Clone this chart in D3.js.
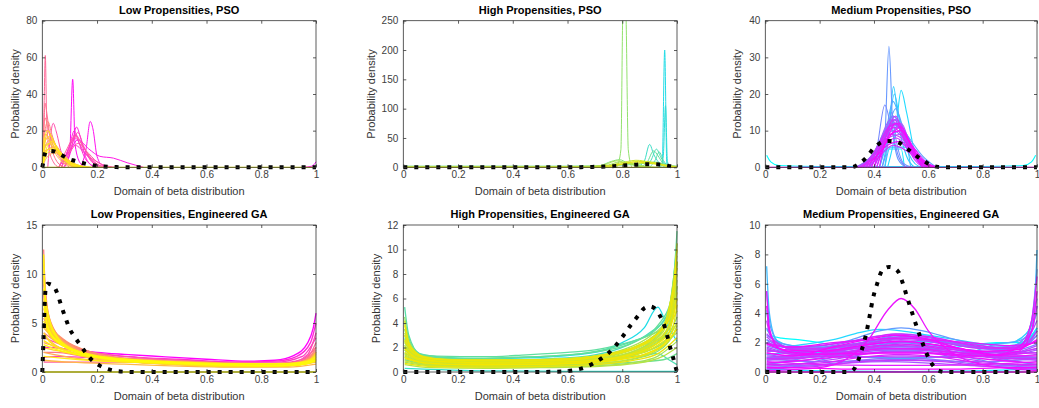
<!DOCTYPE html>
<html>
<head>
<meta charset="utf-8">
<title>Beta fits</title>
<script src="https://cdn.jsdelivr.net/npm/d3@7"></script>
<style>
body { margin: 0; background: #fff; }
text { font-family: "Liberation Sans", Arial, Helvetica, sans-serif; }
</style>
</head>
<body>
<svg id="fig" width="1039" height="408"></svg>
<script>
// ---- data ----
var xTicks = [0, 0.2, 0.4, 0.6, 0.8, 1];
var titles = ['Low Propensities, PSO', 'High Propensities, PSO', 'Medium Propensities, PSO',
              'Low Propensities, Engineered GA', 'High Propensities, Engineered GA', 'Medium Propensities, Engineered GA'];
var yMax = [80, 250, 40, 15, 12, 10];
var yTicks = [[0, 20, 40, 60, 80], [0, 50, 100, 150, 200, 250], [0, 10, 20, 30, 40],
              [0, 5, 10, 15], [0, 2, 4, 6, 8, 10, 12], [0, 2, 4, 6, 8, 10]];

// true (target) beta densities, black dotted
var lowTrue = [[0,0],[0.004,3],[0.008,6.5],[0.013,8.7],[0.02,9.0],[0.04,8.8],[0.055,8.0],[0.07,6.7],[0.085,5.5],[0.1,4.4],[0.115,3.7],[0.13,3.1],[0.145,2.5],[0.16,1.9],[0.18,1.25],[0.21,0.65],[0.24,0.3],[0.27,0.1],[0.3,0.03],[0.35,0],[1,0]];
var highTrue = [[0,0],[0.5,0],[0.55,0.02],[0.6,0.08],[0.63,0.18],[0.66,0.35],[0.69,0.65],[0.72,1.05],[0.75,1.55],[0.77,2.0],[0.8,2.85],[0.83,3.8],[0.86,4.65],[0.88,5.2],[0.9,5.35],[0.915,5.25],[0.935,4.7],[0.955,3.7],[0.965,2.9],[0.975,2.0],[0.985,1.25],[0.992,0.65],[1,0]];
var medTrue = [[0,0],[0.3,0],[0.32,0.08],[0.34,0.7],[0.355,1.5],[0.37,2.5],[0.385,3.9],[0.395,4.9],[0.41,5.9],[0.43,6.9],[0.455,7.15],[0.475,7.05],[0.49,6.8],[0.505,6.1],[0.52,5.2],[0.54,4.05],[0.555,3.2],[0.575,2.15],[0.595,1.2],[0.615,0.5],[0.635,0.12],[0.66,0],[1,0]];

// fitted densities, in plotting order (first = start of colormap)
var lowPSO = [
  [[0.95,0],[0.985,0.6],[1,3]],
  [[0.08,0],[0.1,8],[0.111,48],[0.12,12],[0.14,2],[0.16,0]],
  [[0.14,0],[0.16,10],[0.175,25],[0.185,21],[0.2,6],[0.22,1],[0.25,0]],
  [[0.06,0],[0.1,9],[0.13,15],[0.17,10],[0.21,6],[0.26,5],[0.31,2.5],[0.37,0]],
  [[0.08,0],[0.105,9],[0.125,22],[0.14,16],[0.16,5],[0.19,0]],
  [[0.07,0],[0.1,12],[0.117,20],[0.13,15],[0.16,4],[0.2,0]],
  [[0.07,0],[0.095,10],[0.12,16],[0.15,9],[0.2,1.5],[0.24,0]],
  [[0.06,0],[0.09,7],[0.12,12],[0.16,7],[0.22,1.5],[0.27,0]],
  [[0.07,0],[0.1,11],[0.12,18],[0.14,14],[0.17,6],[0.21,0]],
  [[0.08,0],[0.11,13],[0.13,19],[0.15,12],[0.18,3],[0.22,0]],
  [[0.02,0],[0.03,17],[0.04,24],[0.05,20],[0.07,8],[0.1,2],[0.13,0]],
  [[0.07,0],[0.1,8],[0.13,13],[0.16,9],[0.2,3],[0.25,0]],
  [[0.06,0],[0.09,10],[0.12,17],[0.15,11],[0.19,3],[0.23,0]],
  [[0,0],[0.006,30],[0.011,61],[0.016,26],[0.025,10],[0.04,3],[0.06,0]],
  [[0,0],[0.005,18],[0.01,35],[0.018,28],[0.03,14],[0.05,4],[0.08,0]],
  [[0,4],[0.01,27],[0.02,22],[0.04,12],[0.07,4],[0.1,0]],
  [[0,2],[0.008,20],[0.02,20],[0.04,14],[0.07,6],[0.1,1.5],[0.13,0]],
  [[0,0],[0.01,20],[0.02,25],[0.035,18],[0.05,11],[0.08,3.5],[0.12,0]],
  [[0,0],[0.01,15],[0.025,19],[0.04,15],[0.06,9],[0.1,2.5],[0.14,0]],
  [[0,2],[0.015,13],[0.03,15],[0.05,12],[0.08,6],[0.12,1.5],[0.16,0]],
  [[0,1],[0.02,10],[0.04,11],[0.07,7],[0.1,3.5],[0.14,0.8],[0.18,0]],
  [[0,3],[0.01,9],[0.03,10],[0.06,7],[0.09,3],[0.13,0.3],[0.16,0]],
  [[0,0],[0.02,6],[0.05,8],[0.08,5],[0.12,1.5],[0.17,0]],
  [[0,5],[0.01,12],[0.025,13],[0.045,10],[0.07,5],[0.11,1],[0.15,0]],
  [[0,0],[0.005,16],[0.015,18],[0.03,13],[0.05,7],[0.09,1.5],[0.13,0]],
  [[0,1],[0.01,14],[0.02,16],[0.04,12],[0.06,7],[0.1,2],[0.14,0]],
  [[0,0],[0.01,11],[0.03,13],[0.05,10],[0.08,4.5],[0.12,1],[0.15,0]],
  [[0,2],[0.015,16],[0.03,17],[0.05,12],[0.08,5],[0.12,1],[0.15,0]],
  [[0,0],[0.02,8],[0.04,9],[0.07,6],[0.1,2.5],[0.15,0]],
  [[0,3],[0.01,17],[0.02,20],[0.04,14],[0.07,6],[0.1,1.5],[0.14,0]],
  [[0,0],[0.02,12],[0.035,14],[0.06,9],[0.09,3.5],[0.13,0.5],[0.16,0]],
  [[0,1],[0.025,10],[0.05,10],[0.08,6],[0.11,2.5],[0.15,0.5],[0.18,0]],
  [[0,0],[1,0]]
];
var highPSO = [
  [[0.93,0],[0.946,5],[0.955,200],[0.963,5],[0.975,0]],
  [[0.94,0],[0.95,20],[0.958,105],[0.965,10],[0.975,0]],
  [[0.85,0],[0.88,10],[0.9,39],[0.915,22],[0.94,5],[0.96,0]],
  [[0.88,0],[0.905,12],[0.925,31],[0.94,18],[0.96,3],[0.98,0]],
  [[0.9,0],[0.92,12],[0.935,26],[0.95,12],[0.97,0]],
  [[0.86,0],[0.89,8],[0.915,28],[0.93,20],[0.95,6],[0.97,0]],
  [[0,2],[0.3,2],[0.6,2],[0.72,2.5],[0.85,5],[0.92,9],[0.96,4],[1,2]],
  [[0.66,0],[0.72,3],[0.76,10],[0.79,13],[0.82,7],[0.86,1.5],[0.9,0]],
  [[0.78,0],[0.795,30],[0.803,280],[0.812,280],[0.822,30],[0.835,0]],
  [[0.7,0],[0.75,4],[0.79,9],[0.83,7],[0.88,2],[0.93,0]],
  [[0.68,0],[0.74,5],[0.78,11],[0.81,8],[0.85,3],[0.9,0]],
  [[0,1],[0.5,1],[0.65,1.5],[0.75,3],[0.85,7],[0.92,6],[1,1]],
  [[0.7,0],[0.76,4],[0.82,10],[0.85,12],[0.9,9],[0.95,4],[0.98,0]],
  [[0.72,0],[0.8,6],[0.86,10],[0.92,8],[0.96,3],[1,0]],
  [[0.74,0],[0.8,5],[0.84,9],[0.88,8],[0.93,5],[0.97,1],[1,0]],
  [[0,0],[1,0]]
];
var medPSO = [
  [[0.005,3.3],[0.02,1.5],[0.05,0.5],[0.2,0.2],[0.5,0.2],[0.8,0.2],[0.95,0.5],[0.98,1.5],[0.995,3.3]],
  [[0.44,0],[0.452,5],[0.5,5],[0.512,0]],
  [[0.45,0],[0.48,10],[0.5,21],[0.52,15],[0.55,4],[0.58,0]],
  [[0.43,0],[0.455,10],[0.472,22],[0.49,12],[0.52,3],[0.55,0]],
  [[0.42,0],[0.45,8],[0.475,20],[0.5,10],[0.54,2],[0.57,0]],
  [[0.44,0],[0.46,5.5],[0.52,5.5],[0.535,0]],
  [[0.4,0],[0.44,8],[0.47,18],[0.5,12],[0.55,4],[0.6,0]],
  [[0.41,0],[0.45,10],[0.48,16],[0.51,10],[0.56,2],[0.6,0]],
  [[0.38,0],[0.42,4],[0.47,14],[0.52,9],[0.58,3],[0.63,0]],
  [[0.42,0],[0.44,8],[0.455,33],[0.47,10],[0.49,2],[0.52,0]],
  [[0.43,0],[0.45,6],[0.465,15],[0.48,8],[0.51,1],[0.54,0]],
  [[0.38,0],[0.41,5],[0.44,17],[0.46,12],[0.49,3],[0.52,0]],
  [[0.33,0],[0.38,2],[0.42,6],[0.47,14],[0.52,8],[0.57,2],[0.62,0]],
  [[0.34,0],[0.4,4],[0.45,11],[0.48,12],[0.53,6],[0.58,1],[0.63,0]],
  [[0.35,0],[0.41,5],[0.46,12],[0.5,10],[0.55,4],[0.6,0.5],[0.64,0]],
  [[0.36,0],[0.42,6],[0.47,10],[0.52,7],[0.57,2],[0.62,0]],
  [[0.33,0],[0.39,3],[0.44,9],[0.48,13],[0.52,9],[0.56,3],[0.6,0]],
  [[0.37,0],[0.42,7],[0.46,13],[0.49,11],[0.53,5],[0.57,1],[0.6,0]],
  [[0.35,0],[0.4,3.5],[0.45,8],[0.5,9],[0.55,5],[0.6,1],[0.64,0]],
  [[0.38,0],[0.43,8],[0.46,11],[0.5,12],[0.53,7],[0.56,2],[0.6,0]],
  [[0.36,0],[0.41,4],[0.45,10],[0.49,11],[0.54,5],[0.59,1],[0.63,0]],
  [[0.39,0],[0.43,6],[0.47,12],[0.51,9],[0.55,3],[0.59,0]],
  [[0.34,0],[0.4,3],[0.46,9],[0.5,8],[0.56,3],[0.62,0]],
  [[0.4,0],[0.44,9],[0.475,13],[0.5,10],[0.54,4],[0.58,0]],
  [[0.37,0],[0.42,5],[0.45,7],[0.48,8],[0.52,6],[0.57,2],[0.62,0]],
  [[0.42,0],[0.45,10],[0.48,14],[0.51,8],[0.55,2],[0.58,0]],
  [[0.38,0],[0.42,3],[0.47,6],[0.52,4.5],[0.58,1],[0.62,0]],
  [[0.36,0],[0.41,5],[0.455,11],[0.49,12],[0.53,7],[0.57,2],[0.61,0]],
  [[0.39,0],[0.44,8],[0.47,11],[0.5,9],[0.54,4],[0.58,0]],
  [[0.35,0],[0.4,2.5],[0.45,6],[0.49,7],[0.54,4],[0.6,0.8],[0.64,0]],
  [[0.41,0],[0.45,8],[0.48,12],[0.52,8],[0.56,2],[0.59,0]],
  [[0.37,0],[0.42,4],[0.46,9],[0.5,10],[0.54,6],[0.58,2],[0.62,0]],
  [[0.4,0],[0.44,6],[0.47,9.5],[0.5,11],[0.53,7],[0.57,2],[0.6,0]],
  [[0,0],[1,0]]
];
var lowGA = [
  [[0.005,2.5],[0.03,2.5],[0.1,2.3],[0.2,2.0],[0.3,1.8],[0.45,1.55],[0.6,1.3],[0.75,1.1],[0.85,1.2],[0.92,1.7],[0.97,3],[0.99,4.5],[1,6]],
  [[0.005,5],[0.03,4],[0.1,2.8],[0.2,1.9],[0.35,1.5],[0.5,1.3],[0.7,1.0],[0.85,1.1],[0.93,1.6],[0.98,3],[1,5]],
  [[0.005,1.5],[0.05,1.6],[0.15,1.5],[0.3,1.4],[0.5,1.2],[0.7,1.0],[0.85,1.0],[0.95,1.6],[1,3.5]],
  [[0.005,8],[0.02,5],[0.06,3.2],[0.12,2.3],[0.2,1.7],[0.35,1.2],[0.55,0.9],[0.75,0.75],[0.9,0.9],[0.97,1.8],[1,4]],
  [[0.005,3.5],[0.05,3],[0.15,2.2],[0.3,1.6],[0.5,1.2],[0.7,0.9],[0.85,0.9],[0.95,1.3],[1,2.5]],
  [[0.005,1],[0.1,1],[0.3,1],[0.5,0.9],[0.7,0.8],[0.9,0.8],[1,1.2]],
  [[0.005,10],[0.015,6],[0.04,4.2],[0.1,2.6],[0.2,1.5],[0.35,1.0],[0.55,0.7],[0.75,0.6],[0.9,0.8],[0.97,1.5],[1,3]],
  [[0.005,6],[0.03,4.5],[0.08,3.2],[0.15,2.2],[0.3,1.3],[0.5,0.9],[0.7,0.7],[0.85,0.7],[0.95,1.1],[1,2]],
  [[0.005,2],[0.05,2],[0.15,1.6],[0.3,1.2],[0.5,1.0],[0.7,0.8],[0.9,0.9],[1,1.6]],
  [[0.005,12.5],[0.01,9],[0.03,5],[0.07,3.3],[0.15,2],[0.3,1.2],[0.5,0.8],[0.7,0.6],[0.88,0.7],[0.96,1.2],[1,2.2]],
  [[0.005,4],[0.04,3.3],[0.1,2.5],[0.2,1.7],[0.35,1.2],[0.55,0.9],[0.75,0.7],[0.9,0.8],[0.98,1.4],[1,2]],
  [[0.005,9],[0.02,6],[0.05,4],[0.1,2.8],[0.2,1.7],[0.35,1.1],[0.5,0.85],[0.7,0.65],[0.9,0.7],[0.97,1.3],[1,2.5]],
  [[0.005,7],[0.03,4.8],[0.08,3.3],[0.15,2.3],[0.3,1.4],[0.5,0.95],[0.7,0.75],[0.88,0.75],[0.96,1.2],[1,2]],
  [[0.005,11],[0.015,7],[0.04,4.5],[0.1,2.6],[0.2,1.6],[0.35,1.1],[0.55,0.8],[0.75,0.6],[0.9,0.65],[0.97,1.1],[1,1.8]],
  [[0.005,5.5],[0.03,4],[0.08,3],[0.15,2],[0.25,1.5],[0.4,1.1],[0.6,0.85],[0.8,0.7],[0.93,0.8],[1,1.5]],
  [[0.005,3],[0.05,2.6],[0.12,2.1],[0.2,1.7],[0.35,1.3],[0.5,1.1],[0.7,0.9],[0.85,0.85],[0.95,1.0],[1,1.3]],
  [[0.005,8],[0.02,5.5],[0.06,3.6],[0.12,2.4],[0.2,1.6],[0.3,1.2],[0.45,0.9],[0.65,0.7],[0.85,0.6],[0.95,0.9],[1,1.4]],
  [[0.005,2],[0.1,1.5],[0.25,1.1],[0.45,0.9],[0.65,0.75],[0.85,0.7],[1,1]],
  [[0.005,6.5],[0.03,4.2],[0.1,2.5],[0.2,1.5],[0.35,1.0],[0.5,0.75],[0.7,0.55],[0.85,0.55],[0.95,0.8],[1,1.2]],
  [[0.005,1.2],[0.1,1.0],[0.3,0.8],[0.5,0.6],[0.7,0.5],[0.9,0.5],[1,0.8]],
  [[0.005,4.5],[0.05,3.2],[0.12,2.2],[0.25,1.4],[0.4,1.0],[0.6,0.7],[0.8,0.6],[0.93,0.7],[1,1.1]],
  [[0.005,10],[0.015,6.5],[0.04,4],[0.09,2.7],[0.18,1.7],[0.3,1.2],[0.45,1.0],[0.6,0.85],[0.8,0.7],[0.95,0.8],[1,1.3]],
  [[0.005,3.8],[0.04,2.9],[0.1,2.0],[0.2,1.3],[0.35,0.95],[0.55,0.75],[0.75,0.6],[0.9,0.65],[1,1.0]],
  [[0.005,9.5],[0.02,5.8],[0.05,3.8],[0.1,2.5],[0.2,1.5],[0.35,1.0],[0.5,0.8],[0.7,0.62],[0.88,0.65],[0.97,1.1],[1,2]],
  [[0.005,5],[0.03,3.6],[0.08,2.6],[0.15,1.9],[0.3,1.25],[0.5,0.95],[0.7,0.8],[0.88,0.8],[0.97,1.2],[1,1.8]],
  [[0.005,7.5],[0.02,5],[0.06,3.2],[0.12,2.1],[0.22,1.4],[0.4,0.95],[0.6,0.7],[0.8,0.6],[0.93,0.7],[1,1.3]],
  [[0.005,2.5],[0.05,2.2],[0.12,1.8],[0.25,1.35],[0.45,1.05],[0.65,0.85],[0.85,0.8],[0.96,1.0],[1,1.4]],
  [[0.005,4],[0.03,3.0],[0.1,2.1],[0.2,1.55],[0.35,1.15],[0.55,0.9],[0.75,0.75],[0.9,0.75],[1,1.2]],
  [[0.005,11.5],[0.012,7],[0.03,4.8],[0.07,3.0],[0.15,1.8],[0.3,1.1],[0.5,0.75],[0.7,0.55],[0.88,0.6],[0.97,1.0],[1,1.7]],
  [[0.005,6],[0.025,4.2],[0.07,2.9],[0.14,2.0],[0.28,1.3],[0.45,1.0],[0.65,0.8],[0.85,0.7],[0.96,0.95],[1,1.5]],
  [[0.005,3.2],[0.05,2.5],[0.12,1.9],[0.22,1.4],[0.4,1.05],[0.6,0.85],[0.8,0.72],[0.93,0.8],[1,1.15]],
  [[0.005,8.5],[0.02,5.5],[0.05,3.6],[0.1,2.4],[0.18,1.6],[0.32,1.1],[0.5,0.85],[0.7,0.68],[0.87,0.68],[0.96,1.0],[1,1.6]],
  [[0.005,1.6],[0.08,1.4],[0.2,1.15],[0.4,0.95],[0.6,0.8],[0.8,0.7],[0.95,0.8],[1,1.1]],
  [[0.005,5.2],[0.03,3.8],[0.08,2.7],[0.16,1.9],[0.3,1.3],[0.5,0.9],[0.7,0.7],[0.88,0.62],[0.97,0.85],[1,1.3]],
  [[0.005,12],[0.01,8],[0.025,5.5],[0.06,3.4],[0.12,2.2],[0.25,1.3],[0.45,0.9],[0.65,0.7],[0.85,0.62],[0.96,0.9],[1,1.5]],
  [[0.005,2.8],[0.05,2.3],[0.15,1.7],[0.3,1.3],[0.5,1.0],[0.7,0.85],[0.9,0.85],[1,1.2]],
  [[0.005,7],[0.02,4.6],[0.06,3.0],[0.13,2.0],[0.25,1.35],[0.42,1.0],[0.62,0.78],[0.82,0.65],[0.95,0.75],[1,1.2]],
  [[0,0],[1,0]]
];
var highGA = [
  [[0.005,2.8],[0.04,1.8],[0.1,1.2],[0.3,1.1],[0.5,1.2],[0.7,1.6],[0.8,2.4],[0.88,3.6],[0.93,5.3],[0.96,4],[1,2.5]],
  [[0.005,0.3],[0.3,0.1],[0.6,0.05],[1,0.05]],
  [[0.005,2],[0.05,1.4],[0.15,1.1],[0.35,1.0],[0.55,1.1],[0.7,1.4],[0.82,2.2],[0.9,3.2],[0.96,4.5],[0.99,7],[1,9]],
  [[0.005,1.5],[0.1,1.0],[0.3,0.9],[0.5,0.9],[0.7,1.0],[0.85,1.3],[0.93,1.5],[0.97,1],[1,0.6]],
  [[0.005,5.3],[0.02,3],[0.06,1.5],[0.15,1.2],[0.3,1.1],[0.5,1.25],[0.65,1.5],[0.75,1.9],[0.85,2.6],[0.92,3.4],[0.97,5],[1,10.5]],
  [[0.005,2.5],[0.05,1.5],[0.12,1.3],[0.3,1.25],[0.45,1.4],[0.6,1.6],[0.7,1.8],[0.8,2.3],[0.9,3],[0.96,3.8],[1,6]],
  [[0.005,3.5],[0.03,2],[0.08,1.3],[0.2,1.1],[0.4,1.2],[0.6,1.4],[0.72,1.7],[0.85,2.5],[0.93,3.8],[0.98,6],[1,11.5]],
  [[0.005,1],[0.1,0.6],[0.3,0.5],[0.5,0.5],[0.7,0.6],[0.85,0.8],[0.95,1.0],[1,1.5]],
  [[0.005,4],[0.03,2.2],[0.08,1.2],[0.2,0.9],[0.4,0.9],[0.6,1.0],[0.75,1.4],[0.85,2.0],[0.92,3.0],[0.97,4.5],[1,8]],
  [[0.005,1.8],[0.06,1.0],[0.2,0.8],[0.4,0.75],[0.6,0.8],[0.75,1.1],[0.87,1.6],[0.95,2.4],[1,4]],
  [[0.005,3],[0.04,1.7],[0.1,1.1],[0.3,0.9],[0.5,0.85],[0.65,0.95],[0.78,1.3],[0.88,2],[0.95,3.5],[0.99,6],[1,9]],
  [[0.005,1.2],[0.1,0.7],[0.3,0.55],[0.5,0.55],[0.7,0.7],[0.85,1.1],[0.95,2],[1,3.5]],
  [[0.005,2.2],[0.04,1.3],[0.12,0.9],[0.3,0.7],[0.5,0.7],[0.65,0.85],[0.78,1.2],[0.88,1.8],[0.95,2.8],[0.99,5],[1,7]],
  [[0.005,4.5],[0.02,2.5],[0.06,1.3],[0.15,0.9],[0.35,0.8],[0.55,0.85],[0.7,1.0],[0.82,1.5],[0.9,2.4],[0.96,4],[1,10]],
  [[0.005,1.5],[0.08,0.9],[0.25,0.6],[0.45,0.55],[0.62,0.65],[0.76,0.95],[0.87,1.6],[0.94,2.6],[0.98,3.5],[1,4.5]],
  [[0.005,2.7],[0.03,1.6],[0.1,1.0],[0.25,0.85],[0.45,0.85],[0.6,0.95],[0.72,1.2],[0.84,1.9],[0.92,3],[0.97,4.5],[1,8.5]],
  [[0.005,0.8],[0.1,0.5],[0.3,0.4],[0.5,0.4],[0.7,0.5],[0.85,0.8],[0.93,1.3],[1,2.5]],
  [[0.005,3.5],[0.03,1.9],[0.09,1.1],[0.2,0.95],[0.4,0.95],[0.58,1.05],[0.7,1.3],[0.8,1.8],[0.9,2.9],[0.96,4.2],[1,9.5]],
  [[0.005,2],[0.05,1.2],[0.15,0.8],[0.35,0.65],[0.55,0.7],[0.7,0.85],[0.82,1.3],[0.91,2.2],[0.97,3.6],[1,6]],
  [[0.005,1.3],[0.1,0.75],[0.3,0.65],[0.5,0.7],[0.65,0.85],[0.78,1.15],[0.88,1.6],[0.95,2.3],[1,3.2]],
  [[0.005,0.6],[0.1,0.35],[0.3,0.3],[0.5,0.35],[0.7,0.45],[0.85,0.7],[0.95,1.3],[1,2]],
  [[0.005,2.4],[0.04,1.4],[0.1,1.0],[0.3,0.8],[0.5,0.8],[0.66,0.95],[0.8,1.4],[0.9,2.3],[0.96,3.3],[1,7.5]],
  [[0.005,1.8],[0.05,1.1],[0.15,0.8],[0.35,0.7],[0.55,0.75],[0.7,0.95],[0.82,1.4],[0.91,2.3],[0.97,3.8],[1,7]],
  [[0.005,3.2],[0.03,1.8],[0.1,1.05],[0.3,0.9],[0.5,0.95],[0.66,1.15],[0.8,1.7],[0.9,2.7],[0.96,4],[1,9]],
  [[0.005,0.9],[0.1,0.55],[0.3,0.45],[0.5,0.5],[0.68,0.65],[0.82,1.0],[0.92,1.7],[0.98,2.8],[1,3.8]],
  [[0.005,2.5],[0.04,1.5],[0.12,1.0],[0.3,0.85],[0.5,0.85],[0.65,1.0],[0.78,1.4],[0.88,2.2],[0.95,3.3],[1,8]],
  [[0.005,1.4],[0.08,0.85],[0.25,0.7],[0.45,0.7],[0.62,0.8],[0.76,1.1],[0.87,1.7],[0.94,2.6],[1,5]],
  [[0.005,4.2],[0.02,2.4],[0.07,1.3],[0.18,1.0],[0.4,1.0],[0.6,1.1],[0.74,1.45],[0.85,2.1],[0.93,3.2],[0.98,5],[1,10.5]],
  [[0.005,2.1],[0.05,1.3],[0.15,0.95],[0.35,0.8],[0.55,0.8],[0.7,1.0],[0.83,1.5],[0.92,2.5],[0.97,3.6],[1,6.5]],
  [[0.005,1.1],[0.1,0.65],[0.3,0.55],[0.5,0.6],[0.68,0.75],[0.8,1.05],[0.9,1.6],[0.96,2.5],[1,4]],
  [[0.005,3],[0.03,1.7],[0.1,1.1],[0.25,0.95],[0.45,0.95],[0.6,1.05],[0.73,1.35],[0.85,2.0],[0.93,3.1],[0.98,4.8],[1,9]],
  [[0.005,1.6],[0.06,1.0],[0.2,0.75],[0.4,0.65],[0.58,0.7],[0.72,0.9],[0.84,1.35],[0.93,2.2],[0.98,3.2],[1,5.5]],
  [[0.005,2.6],[0.04,1.5],[0.12,1.05],[0.3,0.95],[0.5,1.0],[0.64,1.15],[0.77,1.55],[0.88,2.4],[0.95,3.7],[1,8.5]],
  [[0.005,0.7],[0.1,0.45],[0.3,0.4],[0.5,0.45],[0.7,0.6],[0.84,0.95],[0.93,1.5],[1,2.8]],
  [[0.005,3.8],[0.025,2.1],[0.08,1.2],[0.2,0.95],[0.4,0.9],[0.58,0.95],[0.72,1.25],[0.84,1.9],[0.92,2.9],[0.97,4.3],[1,10]],
  [[0.005,1.9],[0.05,1.15],[0.15,0.85],[0.35,0.75],[0.55,0.8],[0.7,0.95],[0.82,1.35],[0.91,2.1],[0.97,3.2],[1,6]],
  [[0.005,1.2],[0.08,0.75],[0.25,0.6],[0.45,0.6],[0.62,0.7],[0.77,0.95],[0.88,1.45],[0.95,2.2],[1,3.5]]
];
var medGA = [
  [[0.005,4.2],[0.02,2.5],[0.06,2.3],[0.12,2.2],[0.2,2.0],[0.28,1.7],[0.35,1.6],[0.45,1.5],[0.55,1.5],[0.65,1.6],[0.75,1.8],[0.85,2.0],[0.93,2.0],[0.97,2.3],[1,3]],
  [[0.005,0.2],[0.3,0.05],[0.5,0.02],[0.7,0.05],[1,0.2]],
  [[0.005,2],[0.05,1.7],[0.15,1.9],[0.25,2.2],[0.35,2.7],[0.42,2.9],[0.5,2.8],[0.6,2.5],[0.7,2.2],[0.8,1.9],[0.9,1.8],[0.97,2.2],[1,3]],
  [[0.005,2.9],[0.03,2.3],[0.1,1.8],[0.2,1.7],[0.35,1.9],[0.5,2.1],[0.65,2.0],[0.8,1.9],[0.9,2.0],[0.96,2.6],[1,4]],
  [[0.005,1.2],[0.1,1.3],[0.3,1.1],[0.5,0.9],[0.7,1.1],[0.85,1.4],[0.95,1.8],[1,2.5]],
  [[0.005,7.2],[0.015,4],[0.04,2.2],[0.1,1.5],[0.2,1.3],[0.35,1.4],[0.5,1.5],[0.65,1.4],[0.8,1.3],[0.9,1.5],[0.96,2.2],[0.99,4.5],[1,8.3]],
  [[0.005,1],[0.1,1.1],[0.25,1.4],[0.4,1.8],[0.5,2.0],[0.6,1.8],[0.75,1.4],[0.9,1.1],[1,1]],
  [[0.005,2.2],[0.05,1.5],[0.2,1.2],[0.4,1.0],[0.6,1.0],[0.75,1.3],[0.85,1.9],[0.93,2.1],[0.98,2.8],[1,4.5]],
  [[0.005,5.5],[0.02,3],[0.06,1.8],[0.15,1.2],[0.3,1.0],[0.5,1.0],[0.7,1.0],[0.85,1.2],[0.94,1.8],[0.98,3.5],[1,7]],
  [[0.005,0.5],[0.1,0.8],[0.25,1.4],[0.4,2.2],[0.5,2.5],[0.6,2.2],[0.75,1.4],[0.9,0.8],[1,0.5]],
  [[0.005,2.5],[0.05,2],[0.15,1.7],[0.3,2.1],[0.42,2.8],[0.5,3.0],[0.58,2.8],[0.7,2.2],[0.85,1.7],[0.95,1.9],[1,2.8]],
  [[0.005,1.5],[0.1,1.3],[0.25,1.5],[0.4,1.9],[0.5,2.1],[0.6,1.9],[0.75,1.5],[0.9,1.3],[1,1.6]],
  [[0.005,0.2],[0.15,0.6],[0.3,1.2],[0.45,1.7],[0.55,1.7],[0.7,1.2],[0.85,0.6],[1,0.2]],
  [[0.005,3],[0.04,2],[0.12,1.6],[0.25,1.7],[0.4,2.1],[0.5,2.3],[0.62,2.1],[0.75,1.7],[0.88,1.6],[0.96,2.4],[1,5]],
  [[0.005,1.8],[0.08,1.5],[0.2,1.6],[0.35,2.0],[0.5,2.4],[0.65,2.1],[0.8,1.6],[0.92,1.5],[1,1.9]],
  [[0.005,1.2],[0.1,1.0],[0.25,1.1],[0.4,1.3],[0.5,1.4],[0.6,1.3],[0.75,1.1],[0.9,1.0],[1,1.0]],
  [[0.005,0.6],[0.15,0.8],[0.3,1.3],[0.45,1.9],[0.55,2.0],[0.7,1.5],[0.85,0.9],[1,0.5]],
  [[0.005,2.2],[0.05,1.8],[0.15,1.5],[0.3,1.7],[0.45,2.2],[0.55,2.3],[0.7,1.9],[0.85,1.5],[0.95,1.7],[1,2.5]],
  [[0.005,0.9],[0.2,0.7],[0.4,0.8],[0.5,0.85],[0.6,0.8],[0.8,0.7],[1,0.9]],
  [[0.005,1.4],[0.1,1.4],[0.25,1.8],[0.4,2.4],[0.5,2.6],[0.6,2.4],[0.75,1.8],[0.9,1.4],[1,1.3]],
  [[0.005,0.4],[0.2,0.5],[0.35,0.8],[0.5,1.0],[0.65,0.8],[0.8,0.5],[1,0.4]],
  [[0.005,2.0],[0.1,1.6],[0.2,1.5],[0.35,1.6],[0.5,1.8],[0.65,1.6],[0.8,1.4],[0.9,1.5],[0.97,2],[1,2.8]],
  [[0.005,1.0],[0.1,1.0],[0.3,1.6],[0.45,2.0],[0.55,2.0],[0.7,1.6],[0.9,1.0],[1,1.0]],
  [[0.005,0.3],[0.15,0.4],[0.3,0.6],[0.45,0.7],[0.6,0.6],[0.8,0.4],[1,0.3]],
  [[0.005,1.6],[0.1,1.2],[0.25,1.3],[0.4,1.6],[0.5,1.75],[0.65,1.5],[0.8,1.2],[0.92,1.2],[1,1.5]],
  [[0.005,0.8],[0.15,1.0],[0.3,1.5],[0.42,2.1],[0.52,2.3],[0.65,1.9],[0.8,1.2],[0.92,0.9],[1,0.8]],
  [[0.005,2.6],[0.05,1.9],[0.15,1.4],[0.3,1.4],[0.45,1.6],[0.6,1.5],[0.75,1.3],[0.88,1.4],[0.96,2.1],[1,3.5]],
  [[0.005,1.7],[0.1,1.3],[0.25,1.5],[0.4,1.9],[0.5,2.05],[0.6,1.9],[0.75,1.5],[0.9,1.3],[1,1.8]],
  [[0.005,0.4],[0.15,0.6],[0.3,1.0],[0.45,1.4],[0.55,1.4],[0.7,1.0],[0.85,0.6],[1,0.4]],
  [[0.005,2.4],[0.05,1.8],[0.15,1.5],[0.3,1.8],[0.45,2.3],[0.55,2.4],[0.7,2.0],[0.85,1.6],[0.95,1.8],[1,2.8]],
  [[0.005,1.1],[0.15,1.0],[0.3,1.2],[0.45,1.5],[0.55,1.5],[0.7,1.2],[0.85,1.0],[1,1.2]],
  [[0.005,0.2],[0.2,0.4],[0.35,0.7],[0.5,0.8],[0.65,0.7],[0.8,0.4],[1,0.2]],
  [[0.005,3.5],[0.02,2.4],[0.08,1.7],[0.2,1.6],[0.35,1.9],[0.5,2.2],[0.65,2.0],[0.8,1.6],[0.92,1.7],[0.98,2.8],[1,4.5]],
  [[0.005,0.9],[0.1,0.9],[0.25,1.2],[0.4,1.7],[0.5,1.9],[0.6,1.7],[0.75,1.2],[0.9,0.9],[1,0.9]],
  [[0.005,1.5],[0.1,1.2],[0.3,1.0],[0.5,1.1],[0.7,1.0],[0.9,1.2],[1,1.6]],
  [[0.005,0.5],[0.2,0.6],[0.35,1.0],[0.5,1.2],[0.65,1.0],[0.8,0.6],[1,0.5]],
  [[0.005,2.0],[0.08,1.7],[0.2,1.8],[0.35,2.2],[0.48,2.6],[0.6,2.4],[0.75,1.9],[0.9,1.6],[1,2.1]],
  [[0.005,1.3],[0.1,1.1],[0.25,1.4],[0.42,1.8],[0.55,1.85],[0.7,1.5],[0.85,1.2],[1,1.3]],
  [[0.005,0.7],[0.2,0.5],[0.4,0.45],[0.6,0.45],[0.8,0.5],[1,0.7]],
  [[0.005,5.5],[0.015,3],[0.05,1.6],[0.15,1.2],[0.3,1.3],[0.45,1.6],[0.55,1.6],[0.7,1.3],[0.85,1.2],[0.94,1.8],[0.98,3.5],[1,6.5]],
  [[0.005,1.9],[0.1,1.7],[0.25,2.0],[0.4,2.2],[0.5,2.3],[0.6,2.2],[0.75,2.0],[0.9,1.8],[1,2.0]],
  [[0.005,0.1],[0.2,0.3],[0.3,0.9],[0.38,2.2],[0.45,4.2],[0.5,5.0],[0.55,4.3],[0.6,2.8],[0.68,1.4],[0.8,0.5],[1,0.1]],
  [[0.005,0.6],[0.2,0.9],[0.35,1.2],[0.5,1.3],[0.65,1.2],[0.8,0.9],[1,0.6]],
  [[0.005,4.5],[0.015,2.8],[0.06,1.5],[0.2,1.2],[0.4,1.3],[0.6,1.3],[0.8,1.1],[0.93,1.4],[0.98,2.8],[1,5.5]],
  [[0.005,1.3],[0.1,1.1],[0.25,1.7],[0.4,2.3],[0.48,2.5],[0.58,2.3],[0.72,1.6],[0.88,1.1],[1,1.1]],
  [[0.005,0.3],[0.1,0.3],[0.3,0.2],[0.5,0.2],[0.7,0.2],[0.9,0.3],[1,0.3]],
  [[0.005,1.9],[0.08,1.5],[0.2,1.4],[0.35,1.8],[0.5,2.1],[0.65,1.8],[0.8,1.4],[0.92,1.5],[1,2.2]],
  [[0,0],[1,0]]
];

// ---- colormaps (MATLAB-like) ----
var spring = d3.interpolateRgb('#ff00ff', '#ffff00');
var cool = d3.interpolateRgb('#00ffff', '#ff00ff');
var cyanYellow = d3.interpolateRgb('#1edce6', '#f5e600');

var colW = [42.3, 403.3, 765.3];
var rowT = [20.7, 225];
var panels = [
  {curves: lowPSO,  truth: lowTrue,  cmap: spring,     gamma: 1,   lw: 1,   x: colW[0], y: rowT[0], w: 273.7, h: 146.6, lab: 27.5},
  {curves: highPSO, truth: highTrue, cmap: cyanYellow, gamma: 1,   lw: 1,   x: colW[1], y: rowT[0], w: 273.7, h: 146.6, lab: 32},
  {curves: medPSO,  truth: medTrue,  cmap: cool,       gamma: 0.7, lw: 1.1, x: colW[2], y: rowT[0], w: 271.7, h: 146.6, lab: 28.5},
  {curves: lowGA,   truth: lowTrue,  cmap: spring,     gamma: 0.5, lw: 1.3, x: colW[0], y: rowT[1], w: 273.7, h: 147,   lab: 27.5},
  {curves: highGA,  truth: highTrue, cmap: cyanYellow, gamma: 0.6, lw: 1.3, x: colW[1], y: rowT[1], w: 273.7, h: 147,   lab: 27},
  {curves: medGA,   truth: medTrue,  cmap: cool,       gamma: 0.6, lw: 1.3, x: colW[2], y: rowT[1], w: 271.7, h: 147,   lab: 28.5}
];

var svg = d3.select('#fig');
var defs = svg.append('defs');

panels.forEach(function(p, k) {
  var x = d3.scaleLinear().domain([0, 1]).range([p.x, p.x + p.w]);
  var y = d3.scaleLinear().domain([0, yMax[k]]).range([p.y + p.h, p.y]);
  var color = d3.scalePow().exponent(p.gamma).domain([0, p.curves.length - 1]).range([0, 1]);

  defs.append('clipPath').attr('id', 'clip' + k)
    .append('rect')
    .attr('x', p.x - 3).attr('y', p.y)
    .attr('width', p.w + 6).attr('height', p.h + 3);

  var line = d3.line()
    .x(function(d) { return x(d[0]); })
    .y(function(d) { return y(d[1]); })
    .curve(d3.curveMonotoneX);

  var g = svg.append('g');
  var plot = g.append('g').attr('clip-path', 'url(#clip' + k + ')');

  plot.selectAll('path.fit')
    .data(p.curves)
    .enter()
    .append('path')
    .attr('class', 'fit')
    .attr('d', line)
    .attr('fill', 'none')
    .attr('stroke', function(d, i) { return p.cmap(color(i)); })
    .attr('stroke-width', p.lw);

  plot.append('path')
    .datum(p.truth)
    .attr('d', line)
    .attr('fill', 'none')
    .attr('stroke', '#000')
    .attr('stroke-width', 4)
    .attr('stroke-dasharray', '4,7');

  // box
  g.append('rect')
    .attr('x', p.x).attr('y', p.y)
    .attr('width', p.w).attr('height', p.h)
    .attr('fill', 'none')
    .attr('stroke', '#333')
    .attr('stroke-width', 0.8);

  var fmt = function(d) { return String(d); };
  var bottom = g.append('g')
    .attr('transform', 'translate(0,' + (p.y + p.h) + ')')
    .call(d3.axisBottom(x).tickValues(xTicks).tickSize(-3).tickPadding(4).tickFormat(fmt));
  var top = g.append('g')
    .attr('transform', 'translate(0,' + p.y + ')')
    .call(d3.axisTop(x).tickValues(xTicks).tickSize(-3).tickFormat(''));
  var left = g.append('g')
    .attr('transform', 'translate(' + p.x + ',0)')
    .call(d3.axisLeft(y).tickValues(yTicks[k]).tickSize(-3).tickPadding(5).tickFormat(fmt));
  var right = g.append('g')
    .attr('transform', 'translate(' + (p.x + p.w) + ',0)')
    .call(d3.axisRight(y).tickValues(yTicks[k]).tickSize(-3).tickFormat(''));

  [bottom, top, left, right].forEach(function(a) {
    a.select('.domain').remove();
    a.selectAll('line').attr('stroke', '#333').attr('stroke-width', 0.8);
    a.selectAll('text')
      .attr('fill', '#404040')
      .style('font-size', '10px')
      .style('font-family', '"Liberation Sans", Arial, Helvetica, sans-serif');
  });

  g.append('text')
    .text(titles[k])
    .attr('x', p.x + p.w / 2)
    .attr('y', p.y - 7)
    .attr('text-anchor', 'middle')
    .attr('font-size', '11px')
    .attr('font-weight', 'bold')
    .attr('fill', '#000');

  g.append('text')
    .text('Domain of beta distribution')
    .attr('x', p.x + p.w / 2)
    .attr('y', p.y + p.h + 27.5)
    .attr('text-anchor', 'middle')
    .attr('font-size', '11px')
    .attr('fill', '#333');

  g.append('text')
    .text('Probability density')
    .attr('transform', 'translate(' + (p.x - p.lab) + ',' + (p.y + p.h / 2) + ') rotate(-90)')
    .attr('text-anchor', 'middle')
    .attr('dominant-baseline', 'central')
    .attr('font-size', '11px')
    .attr('fill', '#333');
});
</script>
</body>
</html>
